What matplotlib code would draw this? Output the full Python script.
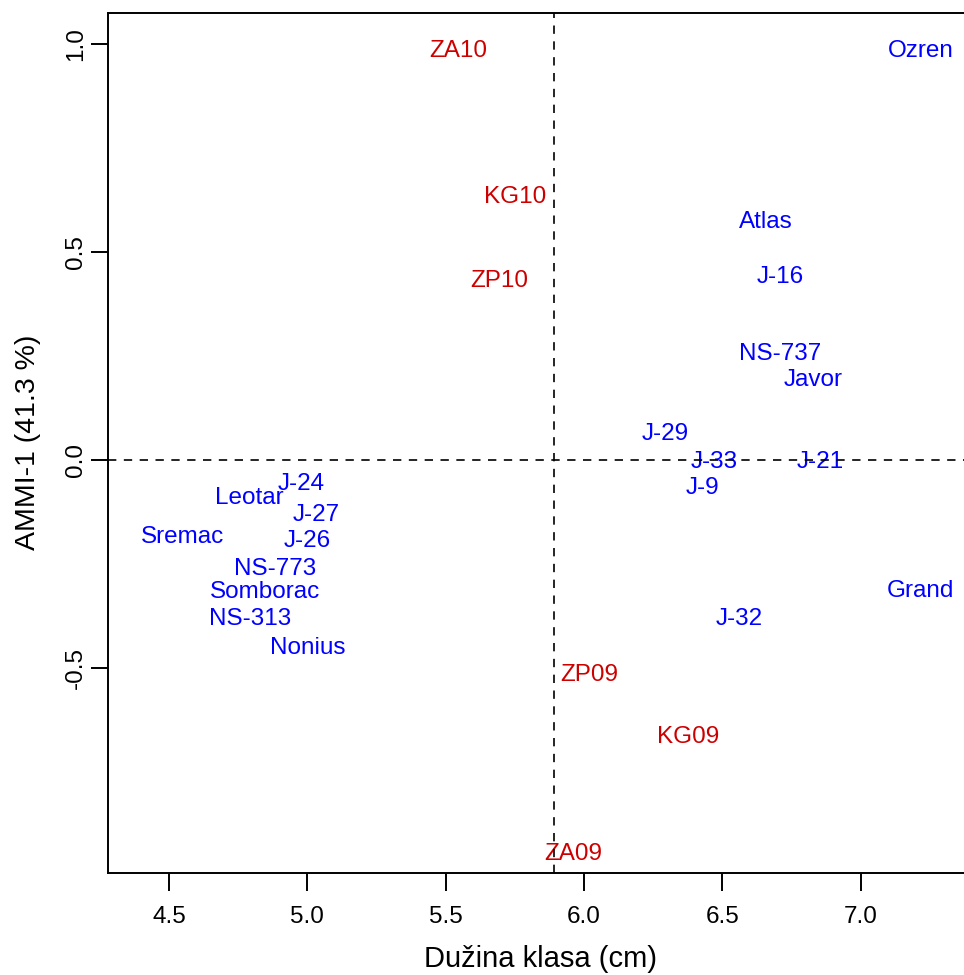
import matplotlib
matplotlib.use("Agg")
import matplotlib.pyplot as plt
import matplotlib.transforms as mtransforms
import numpy as np

plt.rcParams['font.family'] = ['Liberation Sans', 'DejaVu Sans']
plt.rcParams['axes.unicode_minus'] = False

# Genotypes (blue)
gen_names = ["Ozren", "Atlas", "J-16", "NS-737", "Javor", "J-29", "J-33", "J-21",
             "J-9", "Grand", "J-32", "J-24", "Leotar", "J-27", "Sremac", "J-26",
             "NS-773", "Somborac", "NS-313", "Nonius"]
gen_x = [7.217, 6.659, 6.709, 6.709, 6.828, 6.294, 6.470, 6.853,
         6.428, 7.217, 6.563, 4.980, 4.792, 5.031, 4.551, 5.001,
         4.885, 4.846, 4.792, 5.001]
gen_y = [0.990, 0.579, 0.447, 0.261, 0.199, 0.070, 0.002, 0.002,
         -0.060, -0.309, -0.376, -0.050, -0.084, -0.126, -0.178, -0.188,
         -0.255, -0.310, -0.376, -0.445]

# Environments (red)
env_names = ["ZA10", "KG10", "ZP10", "ZP09", "KG09", "ZA09"]
env_x = [5.546, 5.750, 5.695, 6.018, 6.378, 5.962]
env_y = [0.990, 0.639, 0.437, -0.511, -0.660, -0.941]

x_ticks = [4.5, 5.0, 5.5, 6.0, 6.5, 7.0]
y_ticks = [-0.5, 0.0, 0.5, 1.0]
x_label = "Dužina klasa (cm)"
y_label = "AMMI-1 (41.3 %)"

fig = plt.figure(figsize=(9.64, 9.75), dpi=100)
W, H = 964, 975
L, R, T, B = 108.3, 972.0, 12.7, 872.5
ax = fig.add_axes([L / W, 1 - B / H, (R - L) / W, (B - T) / H])
ax.set_xlim(4.281, 7.403)
ax.set_ylim(-0.992, 1.076)

fs = 17.5
off = mtransforms.ScaledTranslation(0, -0.358 * fs / 72, fig.dpi_scale_trans)
tr = ax.transData + off
for n, x, y in zip(gen_names, gen_x, gen_y):
    ax.text(x, y, n, color="#0000FF", fontsize=fs, ha="center", va="baseline",
            transform=tr, zorder=2)
for n, x, y in zip(env_names, env_x, env_y):
    ax.text(x, y, n, color="#CD0000", fontsize=fs, ha="center", va="baseline",
            transform=tr, zorder=2)

ax.axhline(0.0, color="black", lw=1.2, linestyle=(0, (5, 4.5)), zorder=3)
ax.axvline(np.mean(env_x), color="black", lw=1.2, linestyle=(0, (5, 4.5)), zorder=3)

for s in ax.spines.values():
    s.set_linewidth(1.4)

ax.set_xticks(x_ticks)
ax.set_xticklabels([f"{v:.1f}" for v in x_ticks])
ax.set_yticks(y_ticks)
ax.set_yticklabels([f"{v:.1f}" for v in y_ticks], rotation=90, va="center")
ax.tick_params(axis="both", length=12.6, width=1.4, labelsize=17.5)
ax.tick_params(axis="x", pad=11.5)
ax.tick_params(axis="y", pad=3)

ax.set_xlabel(x_label, fontsize=21)
ax.set_ylabel(y_label, fontsize=20.5)
ax.xaxis.set_label_coords(0.5, -0.084)
ax.yaxis.set_label_coords(-0.078, 0.5)

fig.savefig("out.png", dpi=100)
